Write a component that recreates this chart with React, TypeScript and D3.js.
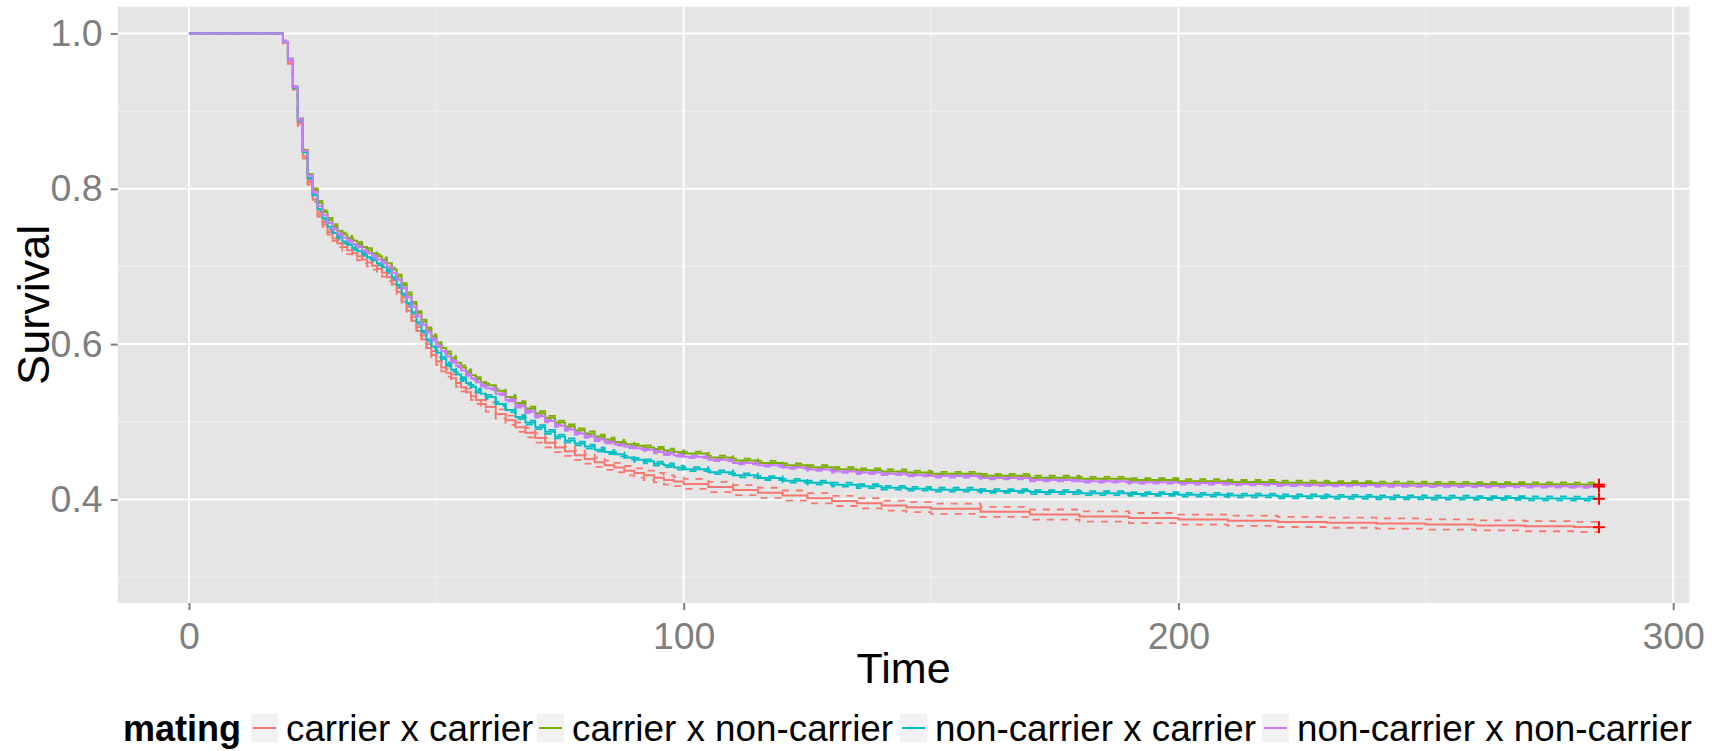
import { useEffect, useRef } from 'react'
import * as d3 from 'd3'

// Event times (shared grid)
const times = [
  0, 19, 20, 21, 22, 23, 24, 25, 26, 27, 28, 29, 30, 31, 32, 33, 34, 35, 36, 37, 38, 39, 40, 41, 42, 43, 44, 45, 46,
  47, 48, 49, 50, 51, 52, 53, 54, 55, 56, 57, 58, 59, 60, 62, 64, 66, 68, 70, 72, 74, 76, 78, 80, 82, 84, 86, 88, 90,
  92, 94, 96, 98, 100, 105, 110, 115, 120, 125, 130, 135, 140, 145, 150, 160, 170, 180, 190, 200, 210, 220, 230, 240,
  250, 260, 270, 280, 285,
]

// carrier x carrier
const cxcSurv = [
  1, 0.988, 0.964, 0.928, 0.884, 0.842, 0.808, 0.786, 0.767, 0.754, 0.744, 0.736, 0.73, 0.725, 0.721, 0.717, 0.713,
  0.709, 0.705, 0.701, 0.697, 0.692, 0.686, 0.677, 0.667, 0.655, 0.643, 0.63, 0.617, 0.606, 0.595, 0.586, 0.578,
  0.57, 0.563, 0.556, 0.55, 0.544, 0.538, 0.533, 0.528, 0.523, 0.519, 0.51, 0.502, 0.493, 0.486, 0.479, 0.473, 0.467,
  0.462, 0.457, 0.452, 0.448, 0.444, 0.441, 0.437, 0.434, 0.431, 0.428, 0.425, 0.423, 0.42, 0.416, 0.412, 0.4085,
  0.405, 0.4015, 0.398, 0.395, 0.392, 0.39, 0.388, 0.384, 0.3805, 0.378, 0.376, 0.374, 0.3725, 0.371, 0.37, 0.369,
  0.3677, 0.3665, 0.3655, 0.3646, 0.3642,
]
// carrier x non-carrier
const cxnSurv = [
  1, 0.989, 0.966, 0.931, 0.889, 0.85, 0.819, 0.799, 0.782, 0.77, 0.76, 0.752, 0.746, 0.741, 0.737, 0.733, 0.729,
  0.725, 0.721, 0.717, 0.713, 0.709, 0.704, 0.696, 0.687, 0.676, 0.664, 0.652, 0.64, 0.629, 0.619, 0.61, 0.602, 0.595,
  0.588, 0.582, 0.576, 0.57, 0.565, 0.56, 0.555, 0.551, 0.547, 0.54, 0.532, 0.524, 0.517, 0.511, 0.505, 0.499, 0.494,
  0.489, 0.485, 0.481, 0.477, 0.474, 0.471, 0.469, 0.467, 0.465, 0.463, 0.461, 0.459, 0.454, 0.45, 0.447, 0.444,
  0.4415, 0.439, 0.4375, 0.436, 0.4345, 0.433, 0.4305, 0.428, 0.4265, 0.425, 0.4235, 0.4225, 0.4215, 0.421, 0.4205,
  0.4201, 0.4197, 0.4194, 0.4191, 0.419,
]
// non-carrier x carrier
const nxcSurv = [
  1, 0.989, 0.966, 0.93, 0.888, 0.847, 0.814, 0.792, 0.774, 0.762, 0.751, 0.743, 0.737, 0.732, 0.728, 0.724, 0.72,
  0.716, 0.712, 0.708, 0.704, 0.699, 0.694, 0.686, 0.676, 0.665, 0.653, 0.641, 0.628, 0.617, 0.606, 0.597, 0.589,
  0.581, 0.574, 0.567, 0.561, 0.555, 0.55, 0.545, 0.54, 0.536, 0.532, 0.523, 0.515, 0.506, 0.499, 0.493, 0.487, 0.481,
  0.476, 0.472, 0.468, 0.464, 0.461, 0.458, 0.454, 0.451, 0.449, 0.446, 0.444, 0.441, 0.439, 0.435, 0.431, 0.4275,
  0.424, 0.4215, 0.419, 0.417, 0.415, 0.4137, 0.4125, 0.4108, 0.4094, 0.408, 0.407, 0.406, 0.405, 0.404, 0.4033,
  0.4027, 0.4022, 0.4018, 0.4013, 0.401, 0.4008,
]
// non-carrier x non-carrier
const nxnSurv = [
  1, 0.989, 0.966, 0.931, 0.889, 0.849, 0.817, 0.796, 0.778, 0.766, 0.756, 0.748, 0.742, 0.737, 0.733, 0.729, 0.725,
  0.721, 0.717, 0.713, 0.709, 0.705, 0.7, 0.692, 0.683, 0.672, 0.66, 0.648, 0.636, 0.625, 0.615, 0.606, 0.598, 0.591,
  0.584, 0.578, 0.572, 0.566, 0.561, 0.556, 0.551, 0.547, 0.543, 0.536, 0.528, 0.52, 0.513, 0.507, 0.501, 0.495, 0.49,
  0.485, 0.481, 0.477, 0.474, 0.471, 0.468, 0.466, 0.464, 0.461, 0.459, 0.457, 0.455, 0.451, 0.447, 0.444, 0.441,
  0.4385, 0.436, 0.4345, 0.433, 0.4315, 0.43, 0.4275, 0.425, 0.4235, 0.422, 0.421, 0.42, 0.419, 0.4185, 0.418, 0.4176,
  0.4172, 0.4169, 0.4167, 0.4166,
]

// confidence-band half widths (from time `from` onward)
const cxcCiHalf = [
  { from: 0, half: 0 },
  { from: 19, half: 0.003 },
  { from: 30, half: 0.005 },
  { from: 60, half: 0.006 },
  { from: 100, half: 0.0065 },
]
const cxnCiHalf = [
  { from: 0, half: 0 },
  { from: 19, half: 0.0015 },
  { from: 26, half: 0.0025 },
]
const nxcCiHalf = [
  { from: 0, half: 0 },
  { from: 19, half: 0.0015 },
  { from: 26, half: 0.0025 },
]
const nxnCiHalf = [
  { from: 0, half: 0 },
  { from: 19, half: 0.0012 },
  { from: 26, half: 0.0018 },
]

const matingLabels = ['carrier x carrier', 'carrier x non-carrier', 'non-carrier x carrier', 'non-carrier x non-carrier']
const matingColors = ['#F8766D', '#7CAE00', '#00BFC4', '#C77CFF']

const xMajor = [0, 100, 200, 300]
const xMinor = [50, 150, 250]
const yMajor = [0.4, 0.6, 0.8, 1.0]
const yMinor = [0.3, 0.5, 0.7, 0.9]

const FONT = "'Liberation Sans', Arial, Helvetica, sans-serif"

type Pt = { t: number; s: number }
type Knot = { from: number; half: number }
type Curve = { label: string; color: string; surv: number[]; ci: Knot[] }

function halfAt(knots: Knot[], t: number): number {
  let h = 0
  for (const k of knots) if (t >= k.from) h = k.half
  return h
}

export default function App() {
  const svgRef = useRef<SVGSVGElement | null>(null)

  useEffect(() => {
    const svgEl = svgRef.current
    if (!svgEl) return
    const svg = d3.select(svgEl)
    svg.selectAll('*').remove()

    const W = 1725
    const H = 751
    const left = 117.7
    const right = 1689.5
    const top = 6.7
    const bottom = 603

    const x = d3.scaleLinear().domain([-14.4, 303.3]).range([left, right])
    const y = d3.scaleLinear().domain([0.2666, 1.0345]).range([bottom, top])

    svg.append('rect').attr('width', W).attr('height', H).attr('fill', '#ffffff')

    // panel
    svg
      .append('rect')
      .attr('x', left)
      .attr('y', top)
      .attr('width', right - left)
      .attr('height', bottom - top)
      .attr('fill', '#E5E5E5')

    const grid = svg.append('g')
    const hLines = (vals: number[], color: string, w: number) =>
      grid
        .selectAll(null)
        .data(vals)
        .enter()
        .append('line')
        .attr('x1', left)
        .attr('x2', right)
        .attr('y1', (d) => y(d))
        .attr('y2', (d) => y(d))
        .attr('stroke', color)
        .attr('stroke-width', w)
    const vLines = (vals: number[], color: string, w: number) =>
      grid
        .selectAll(null)
        .data(vals)
        .enter()
        .append('line')
        .attr('y1', top)
        .attr('y2', bottom)
        .attr('x1', (d) => x(d))
        .attr('x2', (d) => x(d))
        .attr('stroke', color)
        .attr('stroke-width', w)
    hLines(yMinor, '#F2F2F2', 1)
    vLines(xMinor, '#F2F2F2', 1)
    hLines(yMajor, '#FFFFFF', 2)
    vLines(xMajor, '#FFFFFF', 2)

    const curves: Curve[] = [
      { label: matingLabels[0], color: matingColors[0], surv: cxcSurv, ci: cxcCiHalf },
      { label: matingLabels[1], color: matingColors[1], surv: cxnSurv, ci: cxnCiHalf },
      { label: matingLabels[2], color: matingColors[2], surv: nxcSurv, ci: nxcCiHalf },
      { label: matingLabels[3], color: matingColors[3], surv: nxnSurv, ci: nxnCiHalf },
    ]

    const step = d3
      .line<Pt>()
      .x((p) => x(p.t))
      .y((p) => y(p.s))
      .curve(d3.curveStepAfter)

    const plot = svg.append('g')

    // confidence bands (dashed), drawn under the estimates
    curves.forEach((c) => {
      ;[1, -1].forEach((sign) => {
        const pts = times.map((t, i) => ({ t, s: c.surv[i] + sign * halfAt(c.ci, t) }))
        plot
          .append('path')
          .attr('d', step(pts) ?? '')
          .attr('fill', 'none')
          .attr('stroke', c.color)
          .attr('stroke-width', 1.8)
          .attr('stroke-dasharray', '7,7')
      })
    })

    curves.forEach((c) => {
      const pts = times.map((t, i) => ({ t, s: c.surv[i] }))
      plot
        .append('path')
        .attr('d', step(pts) ?? '')
        .attr('fill', 'none')
        .attr('stroke', c.color)
        .attr('stroke-width', 2)
    })

    // censor marks at the last time
    const tEnd = times[times.length - 1]
    curves.forEach((c) => {
      const cx = x(tEnd)
      const cy = y(c.surv[c.surv.length - 1])
      const g = plot.append('g').attr('stroke', '#FF0000').attr('stroke-width', 2)
      g.append('line').attr('x1', cx - 6).attr('x2', cx + 6).attr('y1', cy).attr('y2', cy)
      g.append('line').attr('x1', cx).attr('x2', cx).attr('y1', cy - 6).attr('y2', cy + 6)
    })

    // axes
    const yAxis = svg
      .append('g')
      .attr('transform', `translate(${left},0)`)
      .call(d3.axisLeft(y).tickValues(yMajor).tickSize(7).tickPadding(8).tickFormat(d3.format('.1f')))
    yAxis.select('.domain').remove()
    yAxis.selectAll('line').attr('stroke', '#7F7F7F').attr('stroke-width', 2)
    yAxis
      .selectAll('text')
      .attr('fill', '#7F7F7F')
      .attr('font-size', 37.5)
      .attr('font-family', FONT)

    const xAxis = svg
      .append('g')
      .attr('transform', `translate(0,${bottom})`)
      .call(d3.axisBottom(x).tickValues(xMajor).tickSize(7).tickPadding(12).tickFormat(d3.format('d')))
    xAxis.select('.domain').remove()
    xAxis.selectAll('line').attr('stroke', '#7F7F7F').attr('stroke-width', 2)
    xAxis
      .selectAll('text')
      .attr('fill', '#7F7F7F')
      .attr('font-size', 37.5)
      .attr('font-family', FONT)

    svg
      .append('text')
      .attr('x', (left + right) / 2)
      .attr('y', 683)
      .attr('text-anchor', 'middle')
      .attr('font-family', FONT)
      .attr('font-size', 43)
      .attr('fill', '#000')
      .text('Time')

    svg
      .append('text')
      .attr('transform', `translate(49,${(top + bottom) / 2}) rotate(-90)`)
      .attr('text-anchor', 'middle')
      .attr('font-family', FONT)
      .attr('font-size', 45)
      .attr('fill', '#000')
      .text('Survival')

    // legend
    const legend = svg.append('g')
    const baseY = 741
    const keyTop = 714
    const keyH = 28
    const keyW = 27
    const keyX = [251, 537, 900, 1262]
    legend
      .append('text')
      .attr('x', 123)
      .attr('y', baseY)
      .attr('font-family', FONT)
      .attr('font-size', 36)
      .attr('font-weight', 'bold')
      .attr('fill', '#000')
      .text('mating')
    matingLabels.forEach((lab, i) => {
      const kx = keyX[i]
      legend
        .append('rect')
        .attr('x', kx)
        .attr('y', keyTop)
        .attr('width', keyW)
        .attr('height', keyH)
        .attr('fill', '#F2F2F2')
      legend
        .append('line')
        .attr('x1', kx + 2)
        .attr('x2', kx + keyW - 2)
        .attr('y1', keyTop + keyH / 2)
        .attr('y2', keyTop + keyH / 2)
        .attr('stroke', matingColors[i])
        .attr('stroke-width', 2)
      legend
        .append('text')
        .attr('x', kx + keyW + 8)
        .attr('y', baseY)
        .attr('font-family', FONT)
        .attr('font-size', 36.8)
        .attr('fill', '#000')
        .text(lab)
    })
  }, [])

  return (
    <svg
      ref={svgRef}
      width={1725}
      height={751}
      style={{ position: 'absolute', left: 0, top: 0, display: 'block' }}
    />
  )
}
